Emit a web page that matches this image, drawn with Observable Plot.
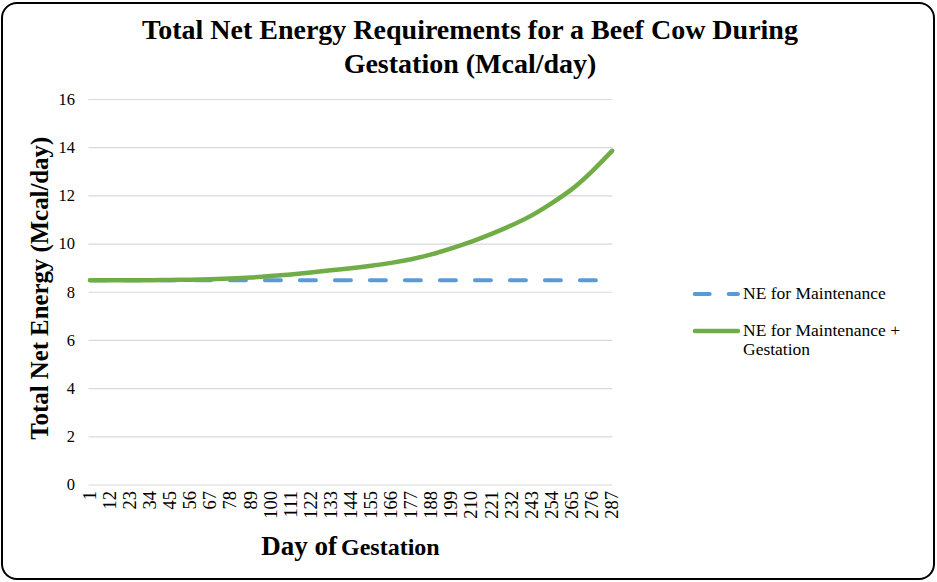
<!DOCTYPE html>
<html>
<head>
<meta charset="utf-8">
<script src="https://cdn.jsdelivr.net/npm/d3@7"></script>
<script src="https://cdn.jsdelivr.net/npm/@observablehq/plot@0.6"></script>
<style>
  body { margin: 0; background: #fff; }
  #wrap { position: relative; width: 937px; height: 582px; overflow: hidden; font-family: "Liberation Serif", "DejaVu Serif", serif; color: #000; }
  #border { position: absolute; left: 1px; top: 2px; width: 930px; height: 574px; border: 2px solid #000; border-radius: 16px; pointer-events: none; }
  #title { position: absolute; left: 0; width: 940px; top: 13px; text-align: center; font-weight: bold; font-size: 28px; line-height: 34px; }
  #chart { position: absolute; left: 0; top: 0; }
  #xtitle { position: absolute; left: 150px; width: 401px; top: 532px; text-align: center; font-weight: bold; line-height: 28px; }
  .leg { position: absolute; font-family: "Liberation Serif", "DejaVu Serif", serif; font-weight: normal; font-size: 17.5px; line-height: 19px; white-space: nowrap; }
  .sw { position: absolute; }
</style>
</head>
<body>
<div id="wrap">
  <div id="title">Total Net Energy Requirements for a Beef Cow During<br>Gestation (Mcal/day)</div>
  <div id="chart"></div>
  <div id="xtitle"><span style="font-size:27px">Day of</span> <span style="font-size:24px">Gestation</span></div>
  <svg class="sw" style="left:690px;top:290px" width="52" height="8"><line x1="4.7" y1="4" x2="48" y2="4" stroke="#5B9BD5" stroke-width="4" stroke-linecap="round" stroke-dasharray="15,19"/></svg>
  <div class="leg" style="left:743px;top:284px">NE for Maintenance</div>
  <svg class="sw" style="left:690px;top:326.5px" width="52" height="8"><line x1="5" y1="4" x2="48" y2="4" stroke="#70AD47" stroke-width="4.5" stroke-linecap="round"/></svg>
  <div class="leg" style="left:743px;top:321px">NE for Maintenance +<br>Gestation</div>
  <div id="border"></div>
</div>
<script>
// Day of gestation (labelled categories on the x axis)
const days = [1, 12, 23, 34, 45, 56, 67, 78, 89, 100, 111, 122, 133, 144, 155, 166, 177, 188, 199, 210, 221, 232, 243, 254, 265, 276, 287];
// NE for Maintenance (Mcal/day)
const maintenance = [8.5, 8.5, 8.5, 8.5, 8.5, 8.5, 8.5, 8.5, 8.5, 8.5, 8.5, 8.5, 8.5, 8.5, 8.5, 8.5, 8.5, 8.5, 8.5, 8.5, 8.5, 8.5, 8.5, 8.5, 8.5, 8.5, 8.5];
// NE for Maintenance + Gestation (Mcal/day)
const total = [8.50, 8.50, 8.50, 8.50, 8.51, 8.52, 8.54, 8.57, 8.61, 8.67, 8.74, 8.82, 8.91, 9.00, 9.10, 9.22, 9.37, 9.57, 9.82, 10.10, 10.42, 10.78, 11.19, 11.70, 12.28, 13.02, 13.87];
const yTicks = [0, 2, 4, 6, 8, 10, 12, 14, 16];
const yTitle = "Total Net Energy (Mcal/day)";

const rows = days.map((d, i) => ({day: d, maint: maintenance[i], total: total[i]}));

const chart = Plot.plot({
  width: 937,
  height: 582,
  marginLeft: 88.5,
  marginRight: 324.5,
  marginTop: 99,
  marginBottom: 97.5,
  style: { fontFamily: "'Liberation Serif', 'DejaVu Serif', serif", color: "#000", background: "transparent", overflow: "visible" },
  x: { domain: [0.5, 287.5] },
  y: { domain: [0, 16] },
  marks: [
    Plot.ruleY(yTicks, { stroke: "#d9d9d9", strokeWidth: 1.2 }),
    Plot.axisY({ ticks: yTicks, tickSize: 0, tickPadding: 14, fontSize: 16.5, fontFamily: "Liberation Serif", label: null, tickFormat: d => String(d) }),
    Plot.axisX({ ticks: days, tickSize: 0, tickPadding: 6, tickRotate: -90, fontSize: 18.5, fontFamily: "Liberation Serif", label: null, tickFormat: d => String(d) }),
    Plot.text([yTitle], { frameAnchor: "left", text: d => d, textAnchor: "middle", rotate: -90, dx: -48.5, dy: -4, fontWeight: "bold", fontSize: 24.8, fontFamily: "Liberation Serif" }),
    Plot.line(rows, { x: "day", y: "maint", stroke: "#5B9BD5", strokeWidth: 4, strokeDasharray: "16,19", strokeLinecap: "round" }),
    Plot.line(rows, { x: "day", y: "total", stroke: "#70AD47", strokeWidth: 4.5, curve: "natural", strokeLinecap: "round" })
  ]
});
document.getElementById("chart").appendChild(chart);
</script>
</body>
</html>
